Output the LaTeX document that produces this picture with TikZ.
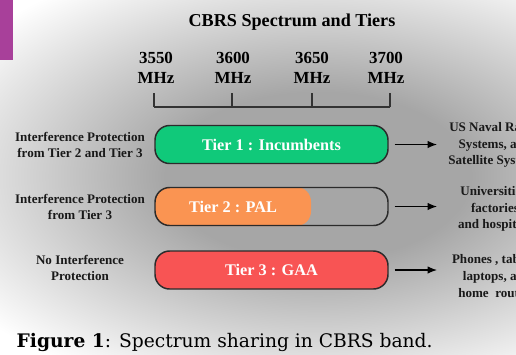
\documentclass[tikz,border=0pt]{standalone}
\usepackage{fontspec}
\setmainfont{Liberation Serif}
\newfontfamily\capfont{DejaVu Serif}
\usetikzlibrary{arrows.meta}

\definecolor{tiergreen}{HTML}{10C97A}
\definecolor{tierorange}{HTML}{FA9452}
\definecolor{tierred}{HTML}{F85454}
\definecolor{barline}{HTML}{2B2B2B}
\definecolor{bgmid}{HTML}{A6A6A6}
\definecolor{tab}{HTML}{A8409A}
\pgfdeclareradialshading{glow}{\pgfpoint{0bp}{0bp}}{color(0bp)=(bgmid); color(9bp)=(bgmid); color(25bp)=(white); color(50bp)=(white)}

\tikzset{
  tierbar/.style={draw=barline, line width=1.1pt, rounded corners=11pt,
    minimum width=174.75pt, minimum height=28.5pt, inner sep=0pt},
  tiertext/.style={text=white, font=\fontsize{12.2}{14}\selectfont\bfseries},
  side/.style={align=center, text=black!90, font=\fontsize{9.8}{12.6}\selectfont\bfseries},
  freq/.style={align=center, font=\fontsize{12.7}{15}\selectfont\bfseries},
  axis/.style={draw=black!80, line width=1.1pt},
  arr/.style={-{Latex[length=7pt,width=5.5pt]}, line width=0.9pt, shorten <=4.5pt}
}

\begin{document}
\begin{tikzpicture}[x=0.75pt,y=-0.75pt]
\useasboundingbox (0,0) rectangle (516,354);
\clip (0,0) rectangle (516,354);
% grey glow behind the tiers, squashed into an ellipse
\begin{scope}[transform canvas={shift={(318,176)}, yscale=0.55}]
  \shade[shading=glow] (-424,-424) rectangle (424,424);
\end{scope}
\fill[tab] (0,0) rectangle (13,60);

\node[font=\fontsize{13.6}{16}\selectfont\bfseries] (title) at (292,22) {CBRS Spectrum and Tiers};

% frequency scale
\foreach \f/\x in {3550/156,3600/233,3650/312,3700/386}
  \node[freq] (f\f) at (\x,68) {\f\\MHz};
\draw[axis] (154,107) -- (390,107);
\foreach \x in {154,232,312,390}
  \draw[axis] (\x,93) -- (\x,107);

% the three tiers
\node[tierbar, fill=tiergreen, tiertext] (tier1) at (271.5,144.5) {Tier 1 : Incumbents};
\fill[tierorange, rounded corners=11pt] (155,187) rectangle (311,226);
\node[tierbar] (tier2) at (271.5,206.5) {};
\node[tiertext] (pal) at (233,206.5) {Tier 2 : PAL};
\node[tierbar, fill=tierred, tiertext] (tier3) at (271.5,270) {Tier 3 : GAA};

\node[side] (prot1) at (80,145) {Interference Protection\\from Tier 2 and Tier 3};
\node[side] (prot2) at (80,207) {Interference Protection\\from Tier 3};
\node[side] (prot3) at (80,268) {No Interference\\Protection};

\node[side] (user1) at (495,145) {US Naval Radar\\Systems, and\\Satellite Systems};
\node[side] (user2) at (495,209) {Universities,\\factories\\and hospitals};
\node[side] (user3) at (497,276) {Phones , tablets,\\laptops, and\\home~ routers};

\coordinate (e1) at (437,144.5);
\coordinate (e2) at (437,206.5);
\coordinate (e3) at (437,270);
\foreach \i in {1,2,3}
  \draw[arr] (tier\i) -- (e\i);

\node[anchor=base west, font=\capfont\fontsize{14}{16}\selectfont] (caption) at (12,347)
  {\textbf{Figure 1}: Spectrum sharing in CBRS band.};
\end{tikzpicture}
\end{document}
